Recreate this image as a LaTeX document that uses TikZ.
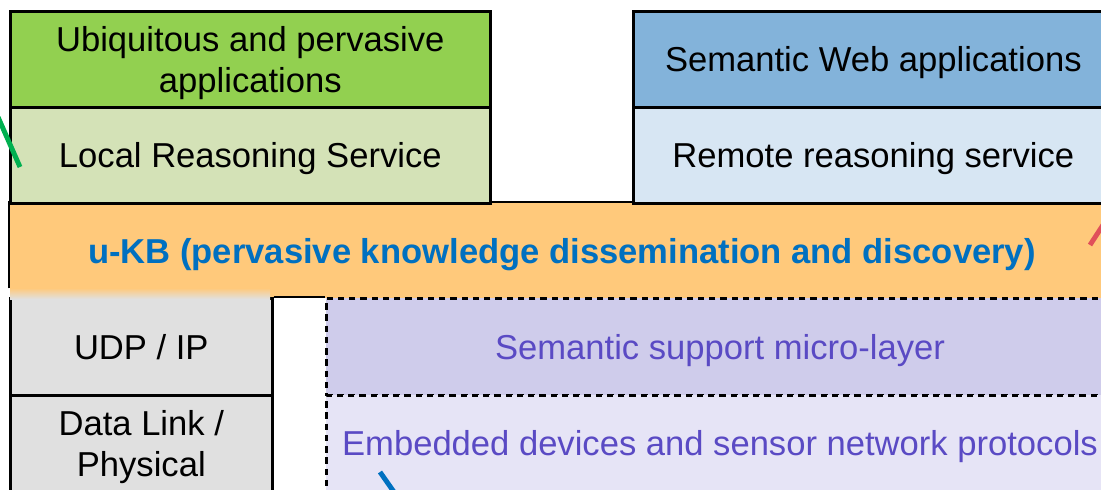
\documentclass[tikz,border=0pt]{standalone}
\usepackage{fontspec}
\setmainfont{Liberation Sans}
\usetikzlibrary{positioning}

\definecolor{appgreen}{HTML}{92D050}
\definecolor{locgreen}{HTML}{D4E2B7}
\definecolor{appblue}{HTML}{83B3DA}
\definecolor{remblue}{HTML}{D7E6F3}
\definecolor{kborange}{HTML}{FFC97B}
\definecolor{netgray}{HTML}{E0E0E0}
\definecolor{semviolet}{HTML}{CFCCEB}
\definecolor{embviolet}{HTML}{E6E4F6}
\definecolor{txtviolet}{HTML}{5A4AC4}
\definecolor{kbblue}{HTML}{0070C0}
\definecolor{strokegreen}{HTML}{00B050}
\definecolor{strokered}{HTML}{E0505A}

\tikzset{
  layer/.style={rectangle, draw=black, line width=1.8pt, anchor=north west,
    inner sep=0pt, align=center, minimum height=2.4cm, text depth=0pt,
    font=\fontsize{24.6}{29.5}\selectfont},
  semlayer/.style={layer, line width=2pt, dash pattern=on 4.5pt off 3.5pt, text=txtviolet},
}

\begin{document}
\begin{tikzpicture}[x=0.025cm, y=-0.025cm]
  \useasboundingbox (0,0) rectangle (1101,489);
  \clip (0,0) rectangle (1101,489);

  % knowledge base band (only top and left edges are outlined)
  \node[layer, draw=none, fill=kborange, minimum width=27.575cm, minimum height=2.375cm,
        text=kbblue, font=\fontsize{24.6}{29.5}\selectfont\bfseries]
        (ukb) at (9,202) {u-KB (pervasive knowledge dissemination and discovery)};
  \draw[line width=1.8pt] ([yshift=8pt]ukb.south west) -- (ukb.north west) -- (ukb.north east);

  % application side
  \node[layer, fill=appgreen, minimum width=12cm] (ubiq) at (9,10)
        {Ubiquitous and pervasive\\applications};
  \node[layer, fill=locgreen, minimum width=12cm] (local) at (9,106)
        {Local Reasoning Service};
  \node[layer, fill=appblue, minimum width=12cm] (semweb) at (632,10)
        {Semantic Web applications};
  \node[layer, fill=remblue, minimum width=12cm] (remote) at (632,106)
        {Remote reasoning service};

  % network stack
  \node[layer, fill=netgray, minimum width=6.55cm, minimum height=2.425cm]
        (udp) at (9,297) {UDP / IP};
  \node[layer, fill=netgray, minimum width=6.55cm] (dlink) at (9,394)
        {Data Link /\\Physical};
  \fill[top color=kborange, bottom color=netgray, draw=none]
        (10,288) rectangle (270,299);

  % sensor side
  \node[semlayer, fill=semviolet, minimum width=19.675cm, minimum height=2.425cm]
        (semsup) at (325,297) {Semantic support micro-layer};
  \node[semlayer, fill=embviolet, minimum width=19.675cm] (embed) at (325,394)
        {Embedded devices and sensor network protocols};
  \draw[line width=1.8pt] (udp.north east) -- (semsup.north west);

  % strokes coming in from outside
  \draw[strokegreen, line width=3.5pt] (-2,117) -- (20,167);
  \draw[strokered, line width=3.5pt] (1103,225) -- (1090,245);
  \draw[kbblue, line width=3.5pt] (380,472) -- (394,492);
\end{tikzpicture}
\end{document}
